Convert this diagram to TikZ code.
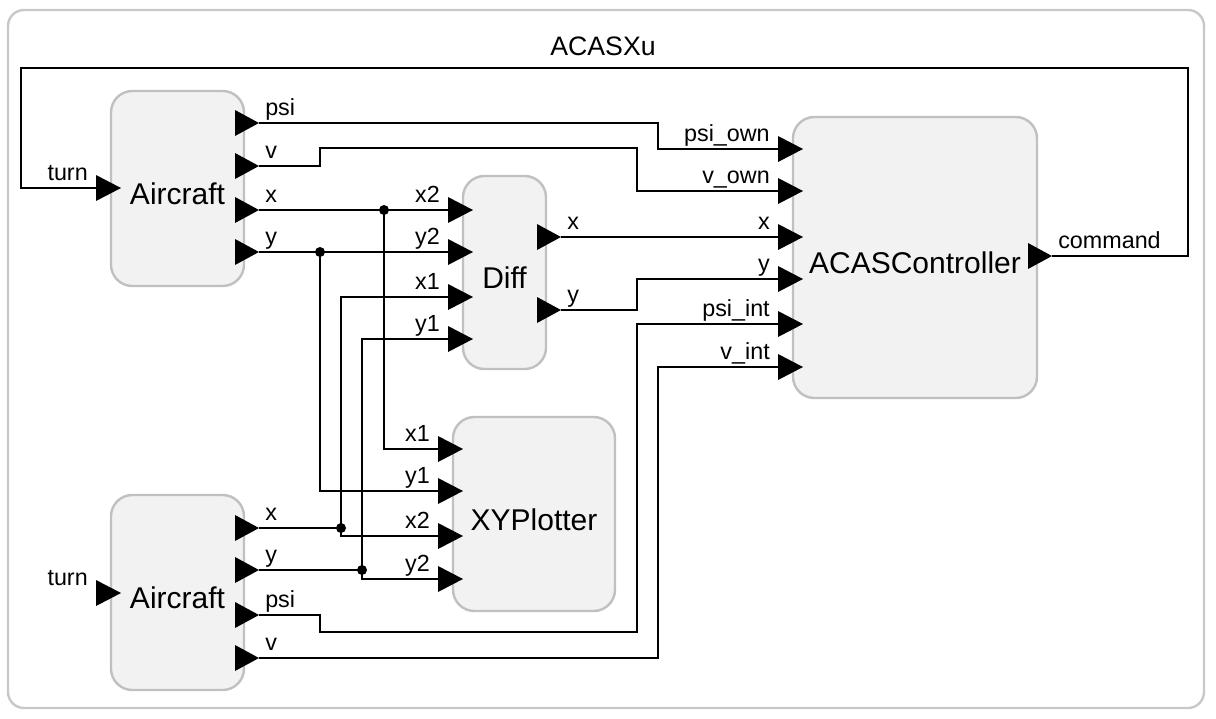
\documentclass[tikz,border=0pt]{standalone}
\usepackage{fontspec}
\setmainfont{Liberation Sans}

\begin{document}
\begin{tikzpicture}[x=0.75pt,y=0.75pt,yscale=-1,
  frame/.style={draw={rgb,255:red,200;green,200;blue,200},line width=1.8pt,rounded corners=12pt},
  block/.style={draw={rgb,255:red,192;green,192;blue,192},line width=1.8pt,fill={rgb,255:red,242;green,242;blue,242},rounded corners=16pt,font=\fontsize{22.5}{27}\selectfont,text height=24pt,text depth=0pt},
  plabel/.style={font=\fontsize{17.5}{21}\selectfont,inner sep=0pt},
  wire/.style={line width=2pt},
  pin/.style={fill=black},
  dot/.style={fill=black}]
\useasboundingbox (0,0) rectangle (1216,718);

%Shape: Frame
\draw[frame] (8,10) rectangle (1204,708);
% Text Node
\node[font=\fontsize{20}{24}\selectfont] (title) at (603,46) {ACASXu};

%Shape: Blocks
\node[block,minimum width=99.75pt,minimum height=146.25pt] (air1) at (177.5,188.5) {Aircraft};
\node[block,minimum width=99.75pt,minimum height=146.25pt] (air2) at (177.5,592.5) {Aircraft};
\node[block,minimum width=62.25pt,minimum height=144.75pt] (diff) at (504.5,272.5) {Diff};
\node[block,minimum width=121.5pt,minimum height=145.5pt] (plot) at (534,514) {XYPlotter};
\node[block,minimum width=183pt,minimum height=210.75pt] (ctrl) at (915,257.5) {ACASController};

%Shape: Input ports
\foreach \nm/\xx/\yy/\lb in {a1turn/111/188/turn,a2turn/111/593/turn,
    dx2/463/210/x2,dy2/463/252/y2,dx1/463/297/x1,dy1/463/339/y1,
    px1/453/449/x1,py1/453/491/y1,px2/453/536/x2,py2/453/579/y2,
    cpsio/793/149/psi\_own,cvo/793/191/v\_own,cx/793/237/x,cy/793/279/y,
    cpsii/793/324/psi\_int,cvi/793/367/v\_int}{
  \fill[pin] (\xx-15,\yy-13) -- (\xx+10,\yy) -- (\xx-15,\yy+13) -- cycle;
  \coordinate (\nm) at (\xx-15,\yy);
  \node[plabel,anchor=base east] at (\xx-23,\yy-8) {\lb};
}

%Shape: Output ports
\foreach \nm/\xx/\yy/\lb in {a1psi/244/123/psi,a1v/244/166/v,a1x/244/210/x,a1y/244/252/y,
    a2x/244/528/x,a2y/244/570/y,a2psi/244/615/psi,a2v/244/658/v,
    dox/546/237/x,doy/546/310/y,ccmd/1037/256/command}{
  \fill[pin] (\xx-9,\yy-13) -- (\xx+15,\yy) -- (\xx-9,\yy+13) -- cycle;
  \coordinate (\nm) at (\xx+15,\yy);
  \node[plabel,anchor=base west] at (\xx+21,\yy-8) {\lb};
}

%Shape: Junctions
\coordinate (j1x) at (384,210);
\coordinate (j1y) at (320,252);
\coordinate (j2x) at (341,528);
\coordinate (j2y) at (362,570);
\foreach \j in {j1x,j1y,j2x,j2y} \fill[dot] (\j) circle (5);

%Straight Lines
\draw[wire] (ccmd) -| (1188,68) -| (21,188) -- (a1turn);
\draw[wire] (a1psi) -| (658,149) -- (cpsio);
\draw[wire] (a1v) -| (320,148) -| (637,191) -- (cvo);
\draw[wire] (a1x) -- (dx2);
\draw[wire] (j1x) |- (px1);
\draw[wire] (a1y) -- (dy2);
\draw[wire] (j1y) |- (py1);
\draw[wire] (a2x) -| (341,297) -- (dx1);
\draw[wire] (j2x) |- (px2);
\draw[wire] (a2y) -| (362,339) -- (dy1);
\draw[wire] (j2y) |- (py2);
\draw[wire] (dox) -- (cx);
\draw[wire] (doy) -| (637,279) -- (cy);
\draw[wire] (a2psi) -| (320,632) -| (637,324) -- (cpsii);
\draw[wire] (a2v) -| (658,367) -- (cvi);

\end{tikzpicture}
\end{document}
